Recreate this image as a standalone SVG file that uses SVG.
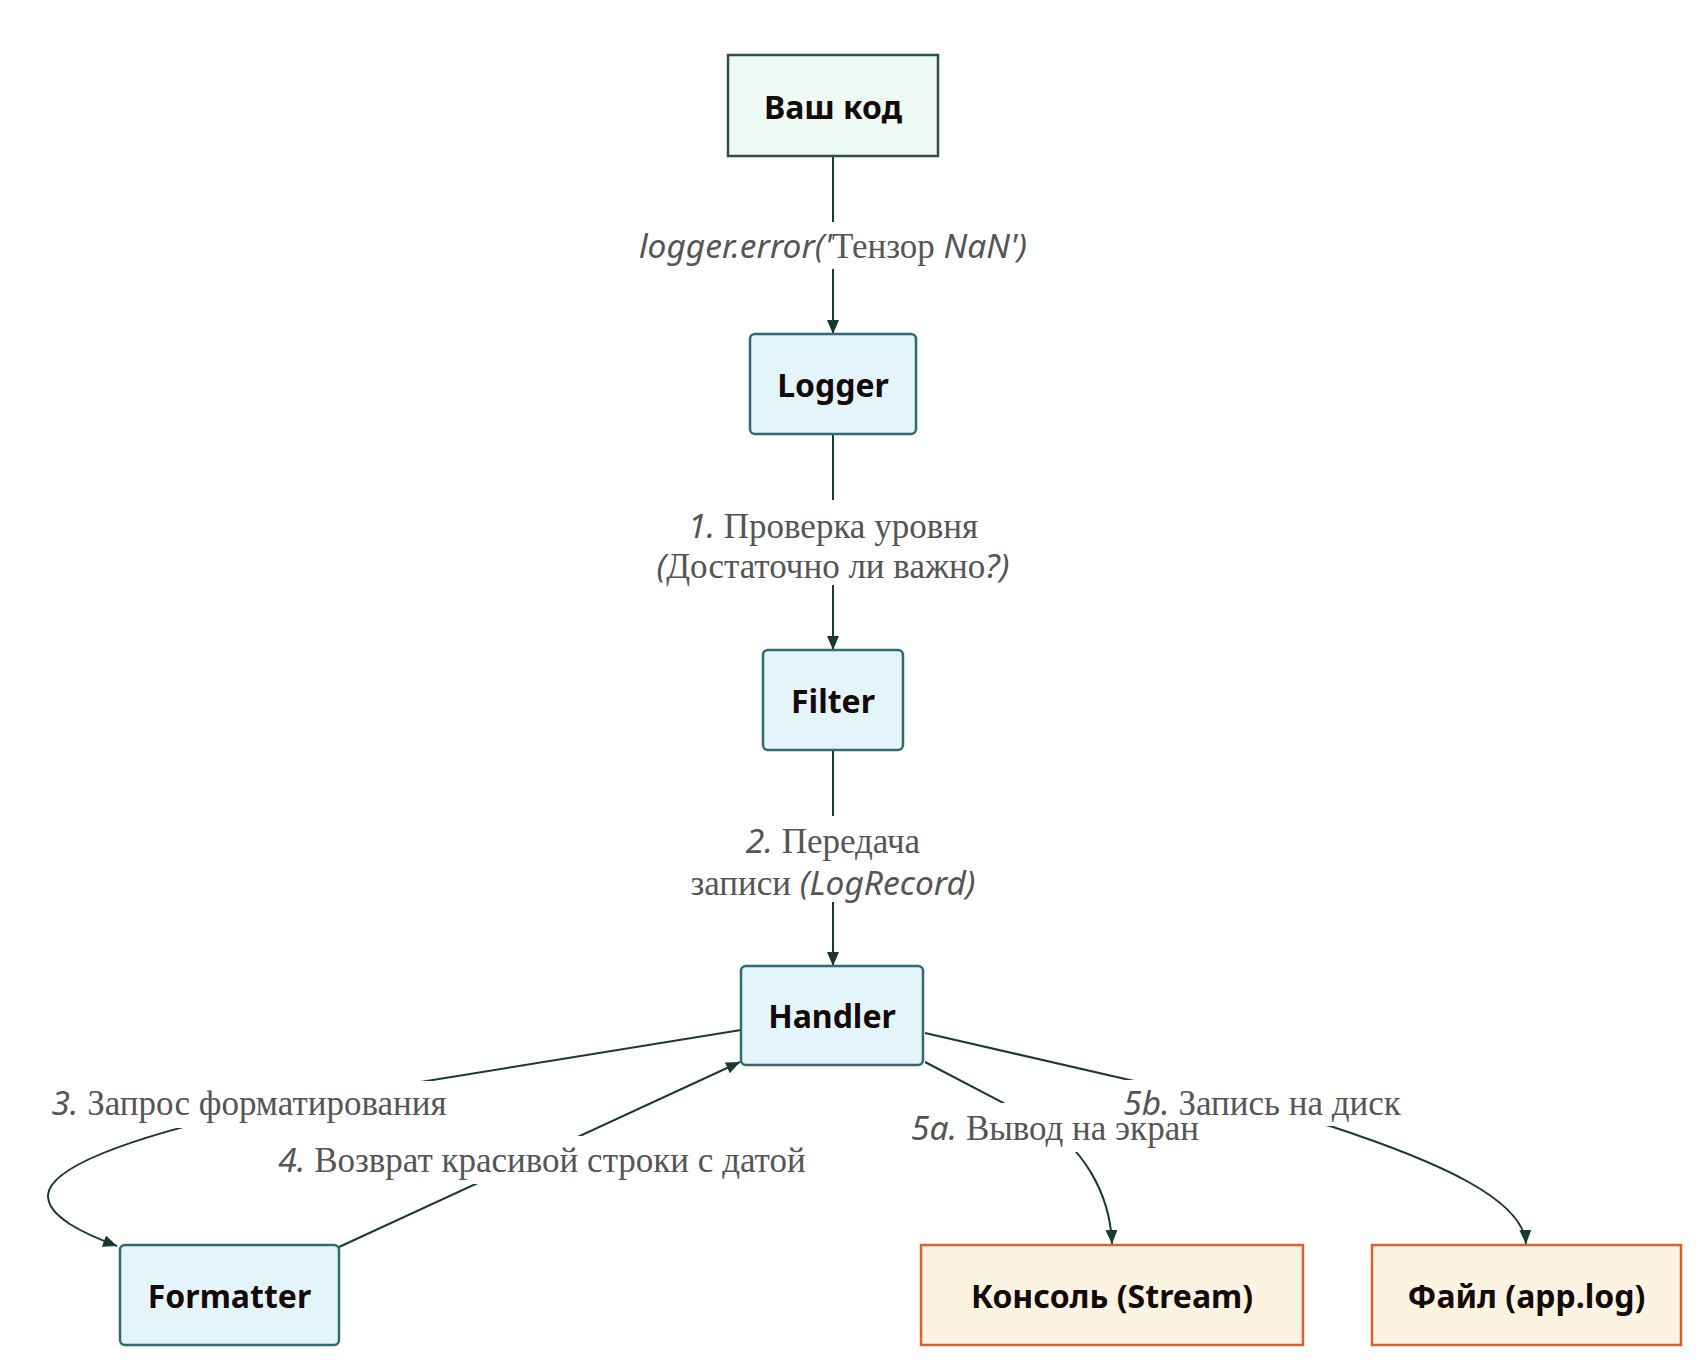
<svg xmlns="http://www.w3.org/2000/svg" width="1706" height="1368" viewBox="0 0 1706 1368">
<defs>
<marker id="arrow" viewBox="0 0 14 12" refX="14" refY="6" markerWidth="14" markerHeight="12" markerUnits="userSpaceOnUse" orient="auto">
<path d="M0,0 L14,6 L0,12 z" fill="#1b3a2e"/>
</marker>
<style>
.edge{fill:none;stroke:#1b3a2e;stroke-width:2;marker-end:url(#arrow)}
.start{fill:#eefbf5;stroke:#2f4f45;stroke-width:2.5}
.proc{fill:#e3f5fa;stroke:#2f6b70;stroke-width:2.5}
.out{fill:#fdf3e1;stroke:#d9622b;stroke-width:2.5}
.ntext{font-family:"Noto Sans","Open Sans",sans-serif;font-weight:bold;font-size:32px;fill:#140a0a;text-anchor:middle}
.ltext{font-family:"Liberation Serif","DejaVu Serif",serif;font-size:35px;fill:#555555;text-anchor:middle}
.it{font-family:"Noto Sans","Open Sans",sans-serif;font-style:italic;font-size:33.5px}
.lbg{fill:#ffffff}
</style>
</defs>
<rect width="1706" height="1368" fill="#ffffff"/>
<g id="connectors">
<path class="edge" d="M833,156 L833,334"/>
<path class="edge" d="M833,434 L833,650"/>
<path class="edge" d="M833,750 L833,966"/>
<path class="edge" d="M741,1030 L260,1108 C140,1135 50,1165 48,1195 C47,1217 85,1234 117,1246"/>
<path class="edge" d="M339,1247 L740,1062"/>
<path class="edge" d="M925,1062 L1040,1122 C1080,1145 1110,1190 1112,1244"/>
<path class="edge" d="M925,1033 L1330,1126 C1440,1162 1524,1200 1526,1244"/>
</g>
<g id="edge-labels">
<rect class="lbg" x="628" y="222" width="410" height="47"/>
<rect class="lbg" x="645" y="500" width="376" height="85"/>
<rect class="lbg" x="680" y="816" width="306" height="86"/>
<rect class="lbg" x="36" y="1081" width="426" height="47"/>
<rect class="lbg" x="265" y="1136" width="554" height="48"/>
<rect class="lbg" x="903" y="1103" width="303" height="49"/>
<rect class="lbg" x="1117" y="1080" width="291" height="46"/>
<text class="ltext" x="833" y="258"><tspan class="it">logger.error('</tspan>Тензор<tspan class="it"> NaN')</tspan></text>
<text class="ltext" x="833" y="538"><tspan class="it">1.</tspan> Проверка уровня</text>
<text class="ltext" x="833" y="578"><tspan class="it">(</tspan>Достаточно ли важно<tspan class="it">?)</tspan></text>
<text class="ltext" x="833" y="853"><tspan class="it">2.</tspan> Передача</text>
<text class="ltext" x="833" y="895">записи <tspan class="it">(LogRecord)</tspan></text>
<text class="ltext" x="249" y="1115"><tspan class="it">3.</tspan> Запрос форматирования</text>
<text class="ltext" x="542" y="1172"><tspan class="it">4.</tspan> Возврат красивой строки с датой</text>
<text class="ltext" x="1055" y="1140"><tspan class="it">5a.</tspan> Вывод на экран</text>
<text class="ltext" x="1262" y="1115"><tspan class="it">5b.</tspan> Запись на диск</text>
</g>
<g id="node-code">
<rect class="start" x="728" y="55" width="210" height="101"/>
<text class="ntext" x="833" y="119">Ваш код</text>
</g>
<g id="node-logger">
<rect class="proc" x="750" y="334" width="166" height="100" rx="5"/>
<text class="ntext" x="833" y="397">Logger</text>
</g>
<g id="node-filter">
<rect class="proc" x="763" y="650" width="140" height="100" rx="5"/>
<text class="ntext" x="833" y="713">Filter</text>
</g>
<g id="node-handler">
<rect class="proc" x="741" y="966" width="182" height="99" rx="5"/>
<text class="ntext" x="832" y="1028">Handler</text>
</g>
<g id="node-formatter">
<rect class="proc" x="120" y="1245" width="219" height="100" rx="5"/>
<text class="ntext" x="229.5" y="1308">Formatter</text>
</g>
<g id="node-console">
<rect class="out" x="921" y="1245" width="382" height="100"/>
<text class="ntext" x="1112" y="1308">Консоль (Stream)</text>
</g>
<g id="node-file">
<rect class="out" x="1372" y="1245" width="309" height="100"/>
<text class="ntext" x="1526.5" y="1308">Файл (app.log)</text>
</g>
</svg>
